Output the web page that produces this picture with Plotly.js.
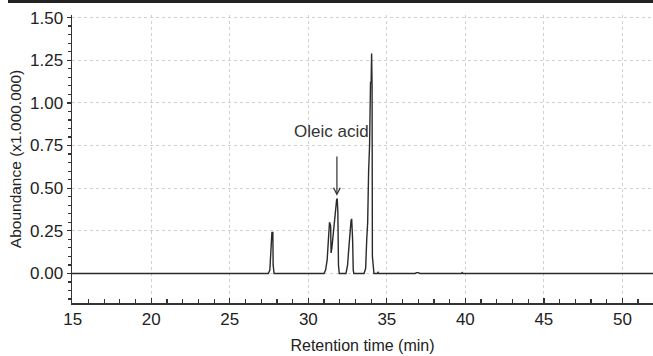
<!DOCTYPE html>
<html>
<head>
<meta charset="utf-8">
<script src="https://cdn.plot.ly/plotly-3.0.1.min.js"></script>
<style>
html,body{margin:0;padding:0;background:#fff;}
#bar{position:absolute;left:8px;top:0;width:645px;height:3px;background:#222;}
#chart{width:653px;height:356px;}
</style>
</head>
<body>
<div id="chart"></div>
<div id="bar"></div>
<script>
// Retention time (min) and abundance (x1.000.000)
const retentionTime = [14.95, 27.45, 27.55, 27.6, 27.65, 27.68, 27.74, 27.76, 27.82,
  31.0, 31.1, 31.2, 31.28, 31.35, 31.42, 31.45, 31.5, 31.58, 31.65, 31.72, 31.8, 31.84, 31.88, 31.92, 31.97,
  32.4, 32.5, 32.58, 32.65, 32.72, 32.76, 32.82, 32.86, 32.9,
  33.55, 33.65, 33.72, 33.78, 33.84, 33.9, 33.96, 34.0, 34.03, 34.06, 34.08, 34.12, 34.18,
  34.4, 34.44, 34.48, 36.8, 36.9, 37.0, 37.1, 39.75, 39.8, 39.85, 51.95];
const abundance = [0, 0, 0.02, 0.15, 0.16, 0.24, 0.24, 0.05, 0,
  0, 0.02, 0.08, 0.2, 0.3, 0.28, 0.12, 0.15, 0.22, 0.3, 0.38, 0.43, 0.44, 0.36, 0.05, 0,
  0, 0.05, 0.15, 0.25, 0.31, 0.32, 0.2, 0.02, 0,
  0, 0.03, 0.2, 0.3, 0.6, 0.75, 1.12, 1.12, 1.29, 1.1, 0.1, 0.03, 0,
  0, 0.006, 0, 0, 0.005, 0.005, 0, 0, 0.005, 0, 0];
const annotationLabel = "Oleic acid";
const arrowX = 31.82, arrowTip = 0.455, arrowTail = 0.695;
const labelX = 31.45, labelY = 0.83;

const trace = {
  x: retentionTime, y: abundance, type: 'scatter', mode: 'lines',
  line: {color: '#2a2a2a', width: 1.4}, hoverinfo: 'skip'
};
const fam = 'Liberation Sans, Arial, sans-serif';
const tickFont = {family: fam, size: 17, color: '#222'};
const layout = {
  width: 653, height: 356,
  margin: {l: 72, r: 0, t: 15, b: 53},
  paper_bgcolor: '#fff', plot_bgcolor: '#fff',
  font: tickFont,
  showlegend: false,
  xaxis: {
    range: [14.95, 51.95], tick0: 15, dtick: 5,
    ticks: 'inside', ticklen: 5, tickwidth: 1.3, tickcolor: '#333',
    minor: {dtick: 1, ticks: 'inside', ticklen: 4, tickwidth: 1.2, tickcolor: '#333', showgrid: false},
    showline: true, linecolor: '#333', linewidth: 1.5, mirror: false,
    showgrid: true, gridcolor: '#d0d0d0', griddash: 'dot', gridwidth: 1,
    zeroline: false,
    title: {text: 'Retention time (min)', font: {family: fam, size: 16, color: '#222'}, standoff: 12},
    tickfont: tickFont
  },
  yaxis: {
    range: [-0.173, 1.515], tick0: 0, dtick: 0.25, tickformat: '.2f',
    ticks: 'outside', ticklen: 4, tickwidth: 1.3, tickcolor: '#333',
    minor: {dtick: 0.05, ticks: 'outside', ticklen: 3, tickwidth: 1.2, tickcolor: '#333', showgrid: false},
    showline: true, linecolor: '#333', linewidth: 1.5, mirror: false,
    showgrid: true, gridcolor: '#d0d0d0', griddash: 'dot', gridwidth: 1,
    zeroline: false,
    title: {text: 'Aboundance (x1.000.000)', font: {family: fam, size: 15.5, color: '#222'}, standoff: 4},
    tickfont: tickFont
  },
  annotations: [
    {x: labelX, y: labelY, xref: 'x', yref: 'y', text: annotationLabel, showarrow: false,
     font: {family: fam, size: 17, color: '#333'}},
    {x: arrowX, y: arrowTip, ax: arrowX, ay: arrowTail, xref: 'x', yref: 'y', axref: 'x', ayref: 'y',
     text: '', showarrow: true, arrowhead: 5, arrowsize: 1.1, arrowwidth: 1.2, arrowcolor: '#333'}
  ]
};
Plotly.newPlot('chart', [trace], layout, {staticPlot: true, displayModeBar: false});
</script>
</body>
</html>
